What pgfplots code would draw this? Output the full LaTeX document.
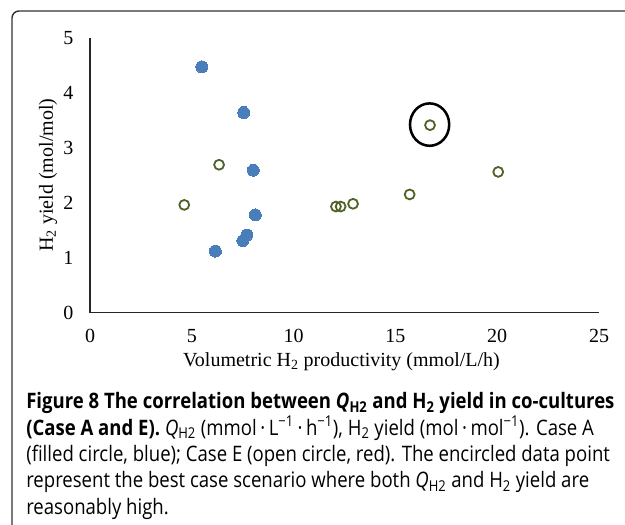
\documentclass[border=0pt]{standalone}
\usepackage{fontspec}
\setmainfont{Liberation Serif}
\newfontfamily\capfont[FakeStretch=0.87]{Open Sans}
\usepackage{pgfplots}
\pgfplotsset{compat=1.18}
\definecolor{caseA}{RGB}{74,126,187}
\definecolor{caseE}{RGB}{79,98,40}
\begin{document}
\begin{tikzpicture}
\useasboundingbox (0,0) rectangle (468.75pt,393.75pt);
\fill[white] (0,0) rectangle (468.75pt,393.75pt);
\draw[line width=1.1pt, color=black!80, rounded corners=5.25pt] (9pt,-2pt) -- (9pt,385.5pt) -- (472pt,385.5pt);
\begin{axis}[
  at={(67.5pt,159.225pt)}, anchor=south west,
  scale only axis, width=381.75pt, height=206.25pt,
  xmin=0, xmax=25, ymin=0, ymax=5,
  xtick={0,5,10,15,20,25}, ytick={0,1,2,3,4,5},
  axis lines=left, axis line style={-, line width=0.8pt, color=black!85},
  major tick length=0pt,
  /pgf/number format/assume math mode=true,
  tick label style={font=\fontsize{15}{18}\selectfont},
  xticklabel style={yshift=-9pt},
  yticklabel style={xshift=-9pt},
  label style={font=\fontsize{15}{18}\selectfont},
  xlabel={Volumetric H\textsubscript{2} productivity (mmol/L/h)},
  ylabel={H\textsubscript{2} yield (mol/mol)},
  xlabel style={at={(axis description cs:0.494,-0.1974)}, anchor=base},
  ylabel style={at={(axis description cs:-0.0727,0.5)}, anchor=base},
  clip=false,
]
\addplot[only marks, mark=*, mark size=4.5pt, mark options={fill=caseA, draw=caseA, line width=0pt}]
  coordinates {(5.49,4.47) (7.55,3.64) (8.02,2.59) (8.12,1.78) (7.70,1.41) (7.51,1.31) (6.16,1.12)};
\addplot[only marks, mark=o, mark size=3.7pt, mark options={draw=caseE, line width=1.35pt}]
  coordinates {(4.63,1.96) (6.34,2.69) (12.08,1.93) (12.31,1.93) (12.92,1.98) (15.70,2.15) (16.70,3.41) (20.05,2.56)};
\addplot[only marks, mark=o, mark size=15.9pt, mark options={draw=black, line width=1.9pt, xscale=0.925}]
  coordinates {(16.68,3.42)};
\end{axis}
\begin{scope}[every node/.style={anchor=base west, inner sep=0pt, font=\capfont\fontsize{16}{19.7}\selectfont}]
\node at (19.5pt,87pt) {\textbf{Figure 8 The correlation between \textit{Q}\textsubscript{H2} and H\textsubscript{2} yield in co-cultures}};
\node at (19.5pt,67.3pt) {\textbf{(Case A and E).} \textit{Q}\textsubscript{H2} (mmol\,·\,L\textsuperscript{−1}\,·\,h\textsuperscript{−1}), H\textsubscript{2} yield (mol\,·\,mol\textsuperscript{−1}). Case A};
\node at (19.5pt,47.55pt) {(filled circle, blue); Case E (open circle, red). The encircled data point};
\node at (19.5pt,27.8pt) {represent the best case scenario where both \textit{Q}\textsubscript{H2} and H\textsubscript{2} yield are};
\node at (19.5pt,8.1pt) {reasonably high.};
\end{scope}
\end{tikzpicture}
\end{document}
